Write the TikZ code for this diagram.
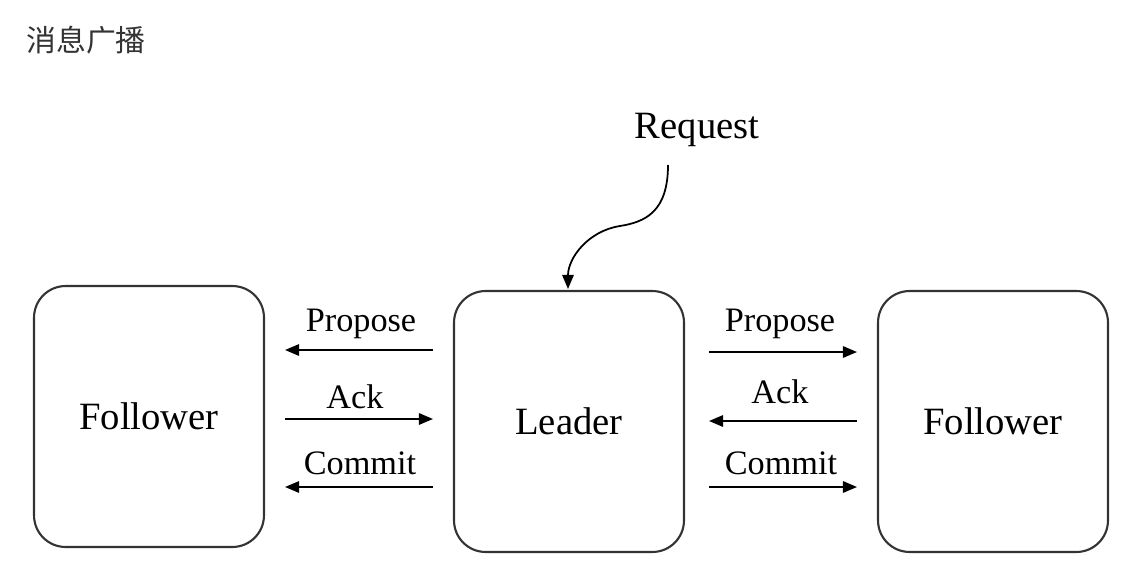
\documentclass[tikz,border=0pt]{standalone}
\usepackage{fontspec}
\setmainfont{Liberation Serif}
\newfontfamily\cjk{Noto Sans CJK SC}
\usepackage{tikz}
\usetikzlibrary{arrows.meta, positioning}

\definecolor{inkgray}{HTML}{333333}

\tikzset{
  role/.style={draw=inkgray, line width=1.2pt, rounded corners=18pt, minimum width=4.6cm, minimum height=5.22cm, font=\fontsize{22}{26}\selectfont},
  msg/.style={-{Triangle[length=8pt,width=6.5pt]}, line width=1pt, draw=black},
  msglabel/.style={font=\fontsize{19.5}{23}\selectfont, inner sep=0pt}
}

\begin{document}
\begin{tikzpicture}[x=0.02cm, y=-0.02cm]
    \useasboundingbox[fill=white] (0,0) rectangle (1138,578);
    % title
    \node[anchor=west, inner sep=0pt, text=inkgray, font=\cjk\fontsize{17}{20}\selectfont] (title) at (26,40) {消息广播};
    % the three servers
    \node[role] (lfollow) at (149,416.5) {Follower};
    \node[role] (leader) at (569,421.5) {Leader};
    \node[role] (rfollow) at (993,421.5) {Follower};
    % request coming into the leader
    \node[font=\fontsize{22}{26}\selectfont, inner sep=0pt] (req) at (697,130) {Request};
    \coordinate (reqstart) at (668,165);
    \coordinate (reqend) at (568,289);
    \draw[msg] (reqstart) .. controls (668,212) and (645,222) .. (620,226) .. controls (588,231) and (568,258) .. (reqend);
    % left side messages
    \coordinate (lpa) at (433,350); \coordinate (lpb) at (285,350);
    \coordinate (laa) at (285,419); \coordinate (lab) at (433,419);
    \coordinate (lca) at (433,487); \coordinate (lcb) at (285,487);
    \draw[msg] (lpa) -- (lpb);
    \draw[msg] (laa) -- (lab);
    \draw[msg] (lca) -- (lcb);
    \node[msglabel] (lprop) at (361,324) {Propose};
    \node[msglabel] (lack) at (355,397) {Ack};
    \node[msglabel] (lcom) at (360,463) {Commit};
    % right side messages
    \coordinate (rpa) at (709,352); \coordinate (rpb) at (857,352);
    \coordinate (raa) at (857,421); \coordinate (rab) at (709,421);
    \coordinate (rca) at (709,487); \coordinate (rcb) at (857,487);
    \draw[msg] (rpa) -- (rpb);
    \draw[msg] (raa) -- (rab);
    \draw[msg] (rca) -- (rcb);
    \node[msglabel] (rprop) at (780,324) {Propose};
    \node[msglabel] (rack) at (780,392) {Ack};
    \node[msglabel] (rcom) at (781,463) {Commit};
\end{tikzpicture}
\end{document}
